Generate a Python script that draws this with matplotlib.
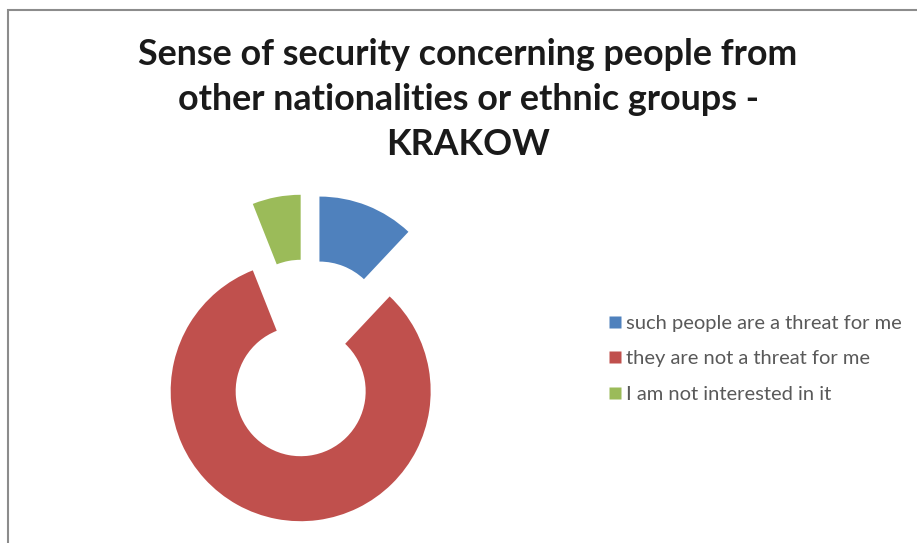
"""
Doughnut chart: sense of security concerning people from other nationalities - Krakow.
"""

import matplotlib.pyplot as plt
from matplotlib.lines import Line2D
from matplotlib.patches import Rectangle

labels = [
    "such people are a threat for me",
    "they are not a threat for me",
    "I am not interested in it",
]
shares = [12, 82, 6]
colors = ["#4F81BD", "#C0504D", "#9BBB59"]

title = ("Sense of security concerning people from\n"
         "other nationalities or ethnic groups -\n"
         "KRAKOW")

plt.rcParams["font.family"] = ["Lato", "DejaVu Sans"]

fig = plt.figure(figsize=(9.17, 5.43), dpi=100)

# chart frame (gray border, partly cut off right/bottom)
fig.patches.append(Rectangle((8 / 917, -0.05), 1.2, 1 - 10 / 543 + 0.05,
                             transform=fig.transFigure, fill=False,
                             edgecolor="#8c8c8c", linewidth=1.5))

ax = fig.add_axes([112 / 917, -10 / 543, 390 / 917, 390 / 543])
wedges, _ = ax.pie(
    shares,
    colors=colors,
    startangle=90,
    counterclock=False,
    explode=[0.26] * len(shares),
    wedgeprops=dict(width=0.5, edgecolor="none"),
)
ax.set_xlim(-1.5, 1.5)
ax.set_ylim(-1.5, 1.5)
ax.set_aspect("equal")
ax.axis("off")

fig.text(468 / 917, 1 - 38 / 543, title, ha="center", va="top",
         fontsize=25.8, fontweight="bold", color="#1a1a1a", linespacing=1.45)

handles = [Line2D([], [], marker="s", linestyle="none", markersize=8,
                  markerfacecolor=c, markeredgecolor="none") for c in colors]
fig.legend(handles, labels, loc="upper left",
           bbox_to_anchor=(600 / 917, 1 - 305 / 543), frameon=False,
           fontsize=14.5, labelcolor="#595959", handlelength=0.5,
           handletextpad=0.3, labelspacing=0.9, borderpad=0)

fig.savefig("out.png", dpi=100)
